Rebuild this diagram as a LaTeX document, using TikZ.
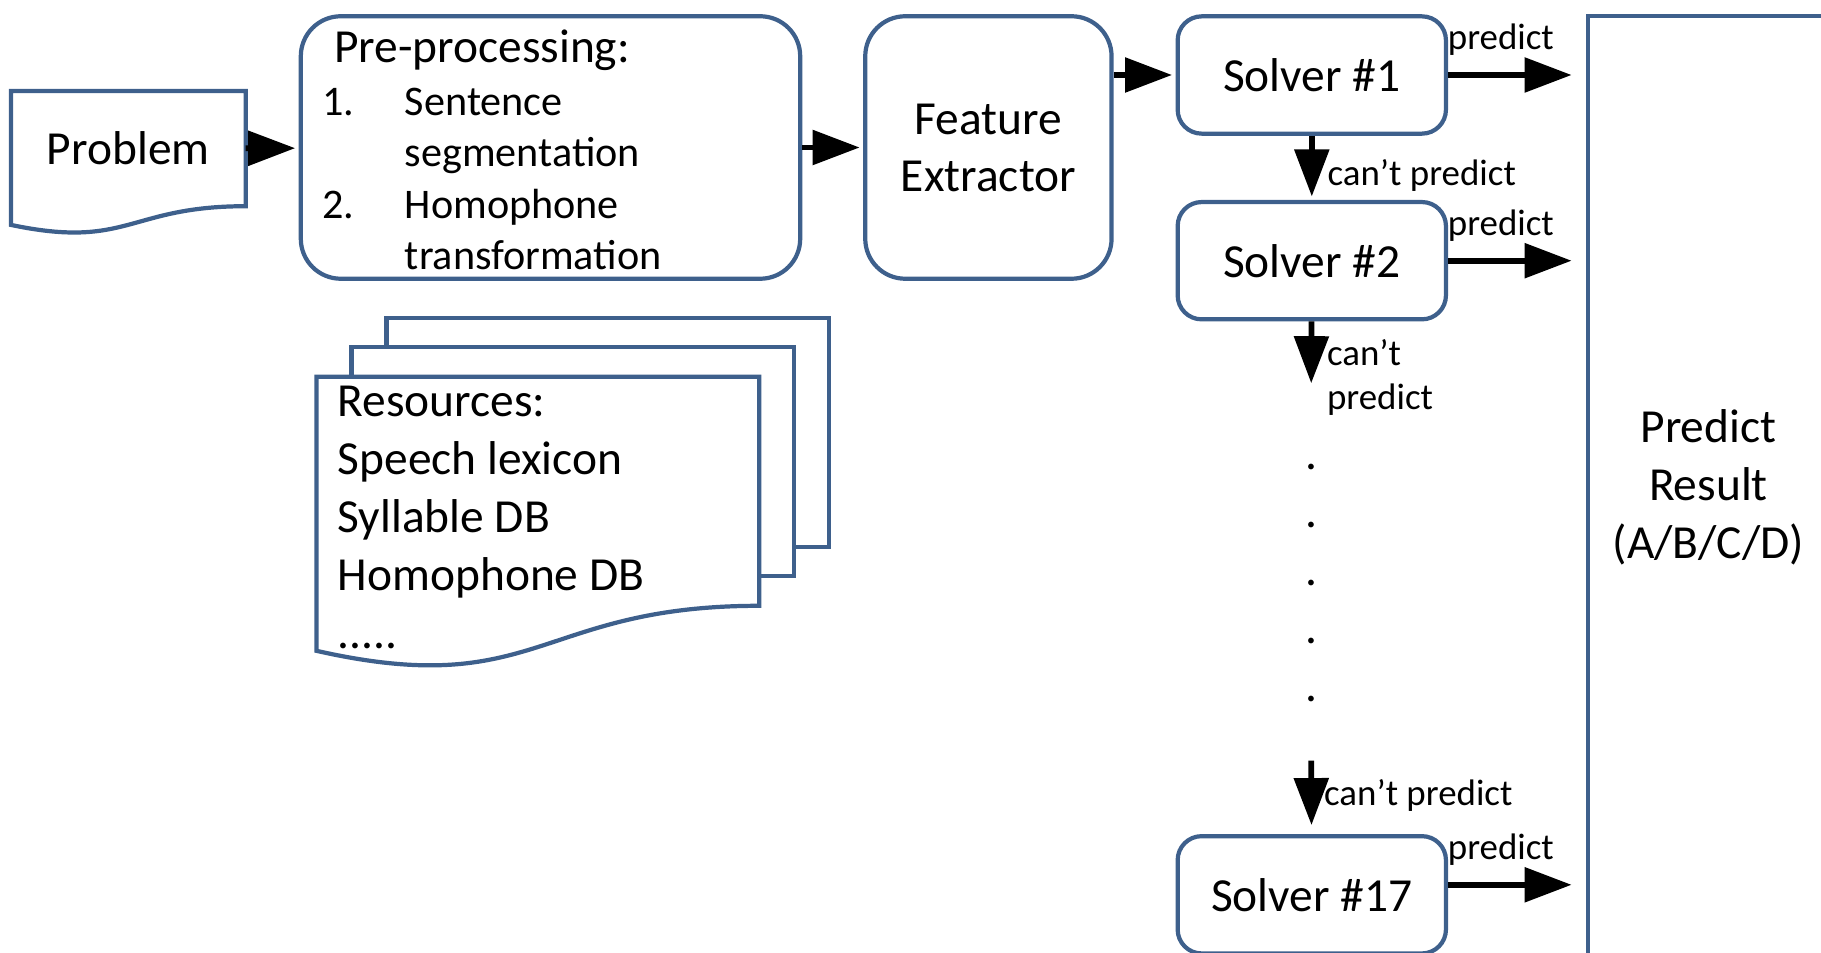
\documentclass[tikz,border=0pt]{standalone}
\usepackage{fontspec}
\setmainfont{Carlito}
\usetikzlibrary{arrows.meta}
\definecolor{boxblue}{RGB}{62,96,140}

\begin{document}
\begin{tikzpicture}[shorten >=1pt,>={Triangle[length=4.7mm,width=3.4mm]},
  every node/.style={inner sep=0pt},
  big/.style={font=\fontsize{13.5}{16.5}\selectfont},
  small/.style={font=\fontsize{10.5}{12.5}\selectfont},
  stage/.style={draw=boxblue,line width=1.2pt,rounded corners=0.4cm,big,align=center},
  solver/.style={stage,rounded corners=0.24cm,minimum width=2.683cm,minimum height=1.173cm},
  page/.style={draw=boxblue,line width=1.2pt,fill=white},
  flow/.style={->,line width=1.6pt},
  tag/.style={small,pos=0,anchor=base west,xshift=-0.03cm,yshift=0.255cm}]
  \useasboundingbox (0,0) rectangle (18.21,9.52);
  \clip (0,0) rectangle (18.21,9.52);

  \node[big,minimum width=2.334cm,minimum height=1.138cm] (problem) at (1.283,8.034) {Problem};
  \draw[page,fill=none] (problem.north west) -- (problem.north east) -- (problem.south east)
    .. controls (problem.south) and ([yshift=-0.434cm]problem.south) .. ([yshift=-0.187cm]problem.south west) -- cycle;

  \node[stage,minimum width=4.994cm,minimum height=2.625cm] (prep) at (5.505,8.045) {};
  \node[big,anchor=west] (prephead) at (3.333,9.02) {Pre-processing:};
  \node[font=\fontsize{12}{14.6}\selectfont,align=left,anchor=north west] (preplist) at (3.217,8.645)
    {\makebox[0.825cm][l]{1.}Sentence\\\hspace*{0.825cm}segmentation\\\makebox[0.825cm][l]{2.}Homophone\\\hspace*{0.825cm}transformation};

  \node[stage,minimum width=2.463cm,minimum height=2.625cm,font=\fontsize{13.5}{16.2}\selectfont] (feat) at (9.884,8.045) {Feature\\Extractor};

  \node[solver] (s1) at (13.118,8.770) {Solver \#1};
  \node[solver] (s2) at (13.118,6.913) {Solver \#2};
  \node[solver] (s17) at (13.118,0.572) {Solver \#17};

  \node[draw=boxblue,line width=1.2pt,minimum width=2.414cm,minimum height=9.43cm,big,align=center] (result) at (17.084,4.642) {Predict\\Result\\(A/B/C/D)};

  \node[minimum width=4.413cm,minimum height=2.276cm] (resdoc) at (5.378,4.607) {};
  \foreach \dx/\dy in {0.70/0.59,0.35/0.295}
    \draw[page] ([shift={(\dx,\dy)}]resdoc.north west) rectangle ([shift={(\dx,\dy)}]resdoc.south east);
  \draw[page] (resdoc.north west) -- (resdoc.north east) -- (resdoc.south east)
    .. controls (resdoc.south) and ([yshift=-0.95cm]resdoc.south) .. ([yshift=-0.45cm]resdoc.south west) -- cycle;
  \node[big,align=left,anchor=north west] (restext) at (3.37,5.665) {Resources:\\Speech lexicon\\Syllable DB\\Homophone DB\\.....};

  \foreach \i in {1,...,5}
    \node[big] (dot\i) at (13.112,{4.85-0.5806*(\i-1)}) {.};
  \coordinate (c2) at (13.112,5.653);
  \coordinate (c3) at (13.112,1.913);
  \coordinate (o17) at ([yshift=0.1cm]s17.east);

  \path[flow]
    (problem) edge (prep)
    (prep) edge (feat)
    (feat.east |- s1) edge (s1)
    (s1) edge node[small,anchor=west,pos=0.626,xshift=0.13cm] (cp1) {can’t predict} (s2)
    (s2) edge node[small,align=left,anchor=west,pos=0.86,xshift=0.13cm] (cp2) {can’t\\predict} (c2)
    (c3) edge[shorten >=0.09cm] node[small,anchor=west,pos=0.476,xshift=0.10cm] (cp3) {can’t predict} (s17)
    (s1.east) edge[shorten >=0.14cm] node[tag] (pr1) {predict} (s1.east -| result.west)
    (s2.east) edge[shorten >=0.14cm] node[tag] (pr2) {predict} (s2.east -| result.west)
    (o17) edge[shorten >=0.14cm] node[tag] (pr17) {predict} (o17 -| result.west);
\end{tikzpicture}
\end{document}
